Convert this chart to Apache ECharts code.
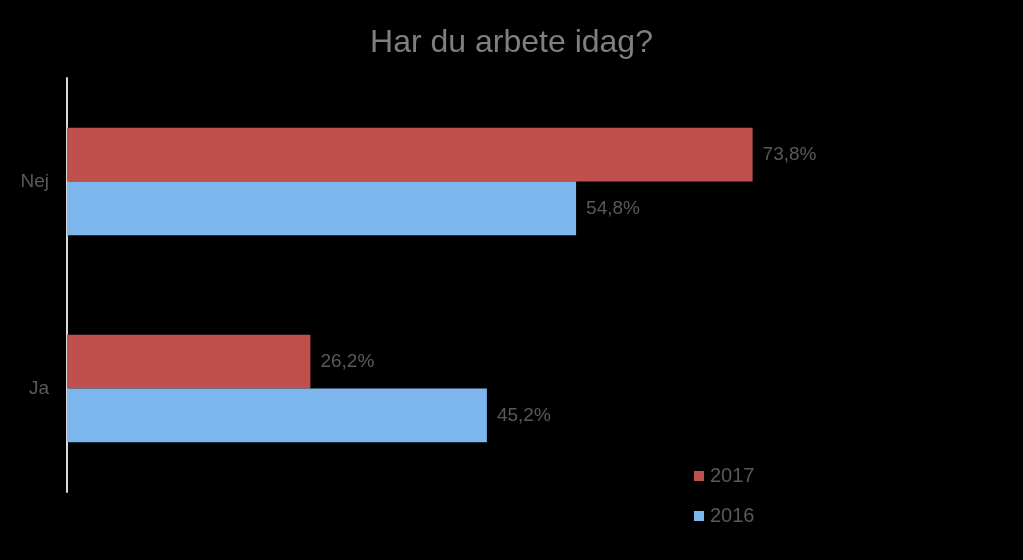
<!DOCTYPE html>
<html>
<head>
<meta charset="utf-8">
<script src="https://cdn.jsdelivr.net/npm/echarts@6/dist/echarts.min.js"></script>
<style>
html,body{margin:0;padding:0;background:#000;}
#c{width:1023px;height:560px;}
</style>
</head>
<body>
<div id="c"></div>
<script>
const categories = ['Nej', 'Ja'];
const seriesNames = ['2017', '2016'];
const values2017 = [73.8, 26.2];
const values2016 = [54.8, 45.2];

const chart = echarts.init(document.getElementById('c'));
const labelCfg = {
  show: true,
  position: 'right',
  distance: 10,
  color: '#595959',
  fontSize: 19,
  fontFamily: 'Liberation Sans, Arial, sans-serif',
  formatter: p => p.value.toFixed(1).replace('.', ',') + '%'
};
chart.setOption({
  backgroundColor: '#000',
  animation: false,
  title: {
    text: 'Har du arbete idag?',
    left: 'center',
    top: 22,
    textStyle: { color: '#7f7f7f', fontSize: 32, fontWeight: 'normal', fontFamily: 'Liberation Sans, Arial, sans-serif' }
  },
  legend: {
    orient: 'vertical',
    left: 694,
    top: 464,
    padding: 0,
    itemWidth: 10,
    itemHeight: 10,
    itemGap: 16,
    icon: 'rect',
    data: seriesNames,
    textStyle: { color: '#595959', fontSize: 20, lineHeight: 24, padding: [0, 0, 0, 1], fontFamily: 'Liberation Sans, Arial, sans-serif' }
  },
  grid: { left: 67, right: 27, top: 78, height: 414 },
  xAxis: {
    type: 'value', min: 0, max: 100,
    show: false
  },
  yAxis: {
    type: 'category',
    data: categories,
    inverse: true,
    axisLine: { show: true, lineStyle: { color: '#d9d9d9', width: 2 } },
    axisTick: { show: false },
    axisLabel: { color: '#595959', fontSize: 19, margin: 18, fontFamily: 'Liberation Sans, Arial, sans-serif' }
  },
  series: [
    { name: seriesNames[0], type: 'bar', data: values2017, itemStyle: { color: '#c0504d' }, barGap: '0%', barCategoryGap: '48%', label: labelCfg },
    { name: seriesNames[1], type: 'bar', data: values2016, itemStyle: { color: '#7db5ed' }, barGap: '0%', barCategoryGap: '48%', label: labelCfg }
  ]
});
</script>
</body>
</html>
